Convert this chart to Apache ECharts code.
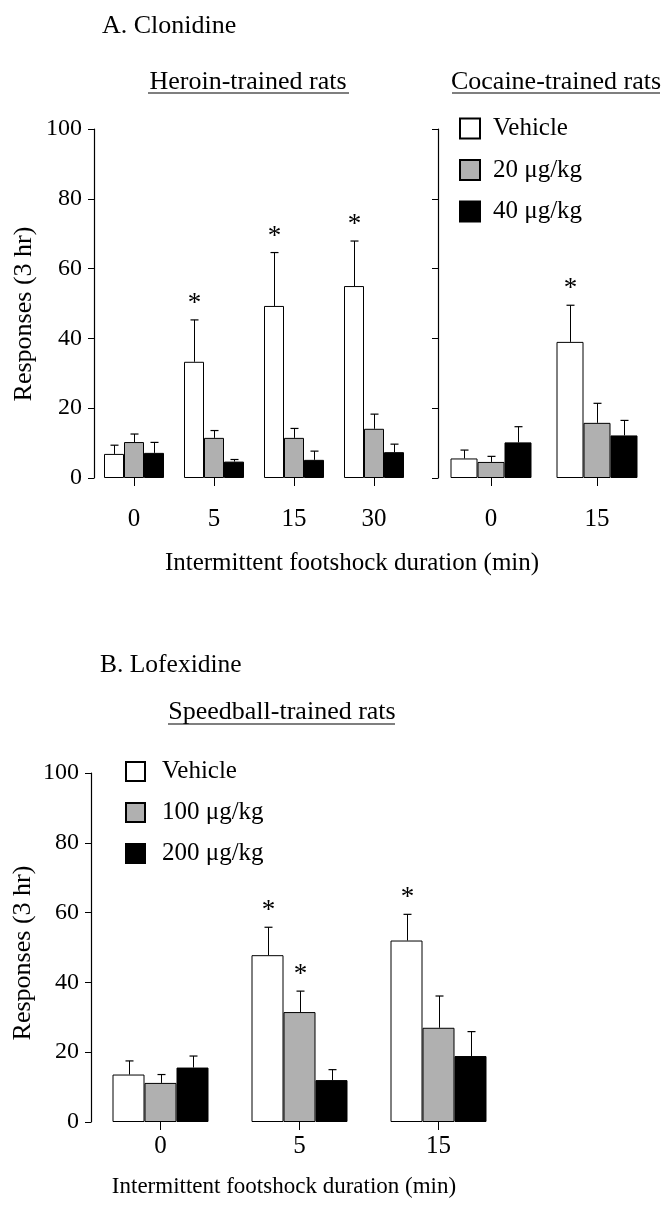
<!DOCTYPE html>
<html>
<head>
<meta charset="utf-8">
<script src="https://cdn.jsdelivr.net/npm/echarts@6/dist/echarts.min.js"></script>
<style>html,body{margin:0;padding:0;background:#fff}#c{width:664px;height:1206px}</style>
</head>
<body>
<div id="c"></div>
<script>
// ---------- data ----------
const yTicks = [0, 20, 40, 60, 80, 100];

// Panel A, heroin-trained rats (clonidine)
const heroinCats = ['0', '5', '15', '30'];
const heroinVehicle = [6.9, 33.3, 49.3, 55.0];
const heroinVehicleErr = [9.4, 45.3, 64.6, 67.9];
const heroinVehicleSig = [0, 1, 1, 1];
const heroin20 = [10.3, 11.5, 11.5, 14.1];
const heroin20Err = [12.6, 13.6, 14.2, 18.3];
const heroin20Sig = [0, 0, 0, 0];
const heroin40 = [7.2, 4.7, 5.2, 7.4];
const heroin40Err = [10.2, 5.3, 7.7, 9.7];
const heroin40Sig = [0, 0, 0, 0];

// Panel A, cocaine-trained rats (clonidine)
const cocaineCats = ['0', '15'];
const cocaineVehicle = [5.6, 39.0];
const cocaineVehicleErr = [8.0, 49.5];
const cocaineVehicleSig = [0, 1];
const cocaine20 = [4.6, 15.8];
const cocaine20Err = [6.2, 21.4];
const cocaine20Sig = [0, 0];
const cocaine40 = [10.2, 12.2];
const cocaine40Err = [14.7, 16.5];
const cocaine40Sig = [0, 0];

// Panel B, speedball-trained rats (lofexidine)
const speedCats = ['0', '5', '15'];
const speedVehicle = [13.6, 47.8, 52.0];
const speedVehicleErr = [17.5, 55.8, 59.5];
const speedVehicleSig = [0, 1, 1];
const speed100 = [11.2, 31.5, 27.0];
const speed100Err = [13.6, 37.5, 36.1];
const speed100Sig = [0, 1, 0];
const speed200 = [15.6, 12.0, 18.9];
const speed200Err = [18.9, 15.0, 25.9];
const speed200Sig = [0, 0, 0];

const namesA = ['Vehicle', '20 μg/kg', '40 μg/kg'];
const namesB = ['Vehicle', '100 μg/kg', '200 μg/kg'];

// ---------- styles ----------
const SERIF = "'Liberation Serif', 'Times New Roman', serif";
const FILLS = ['#ffffff', '#b0b0b0', '#000000'];
const BAR_W = [20, 27, 32];

const chart = echarts.init(document.getElementById('c'), null, {renderer: 'canvas'});

function barSeries(name, data, k, gi) {
  return {
    type: 'bar', name: name, data: data,
    xAxisIndex: gi, yAxisIndex: gi,
    barWidth: BAR_W[gi], barGap: '0%',
    itemStyle: {color: FILLS[k], borderColor: '#000', borderWidth: 1},
    emphasis: {disabled: true},
    z: 2
  };
}

function errSeries(vals, errs, sigs, k, gi) {
  return {
    type: 'custom',
    xAxisIndex: gi, yAxisIndex: gi,
    data: vals.map((v, i) => [i, v, errs[i], sigs[i], k]),
    encode: {x: 0, y: [1, 2]},
    z: 5,
    silent: true,
    renderItem: function (params, api) {
      const cat = api.value(0), v = api.value(1), e = api.value(2), sig = api.value(3), kk = api.value(4);
      const bw = BAR_W[gi];
      const p0 = api.coord([cat, v]);
      const p1 = api.coord([cat, e]);
      const x = Math.round(p0[0] + (kk - 1) * bw) + 0.5;
      const children = [
        {type: 'line', shape: {x1: x, y1: p0[1], x2: x, y2: p1[1]}, style: {stroke: '#000', lineWidth: 1}},
        {type: 'line', shape: {x1: x - 4, y1: p1[1], x2: x + 4, y2: p1[1]}, style: {stroke: '#000', lineWidth: 1.2}}
      ];
      if (sig) {
        children.push({type: 'text', style: {text: '*', x: x, y: p1[1] - 16, align: 'center', verticalAlign: 'middle', font: '27px ' + SERIF, fill: '#000'}});
      }
      return {type: 'group', children: children};
    }
  };
}

function xAxisCfg(gi, cats, margin) {
  return {
    gridIndex: gi, type: 'category', data: cats,
    axisLine: {show: false},
    axisTick: {show: true, alignWithLabel: true, length: 8, lineStyle: {color: '#000', width: 1}},
    axisLabel: {fontSize: 25, color: '#000', fontFamily: SERIF, margin: margin},
    splitLine: {show: false}
  };
}
function yAxisCfg(gi, showLabels) {
  return {
    gridIndex: gi, type: 'value', min: yTicks[0], max: yTicks[yTicks.length - 1], interval: yTicks[1] - yTicks[0],
    axisLine: {show: true, lineStyle: {color: '#000', width: 1.2}},
    axisTick: {show: true, length: 6, lineStyle: {color: '#000', width: 1}},
    axisLabel: {show: showLabels, fontSize: 24, color: '#000', fontFamily: SERIF, margin: 12},
    splitLine: {show: false}
  };
}

function txt(text, x, y, size, align, rot) {
  return {
    type: 'text', x: x, y: y, rotation: rot || 0,
    style: {text: text, font: size + 'px ' + SERIF, fill: '#000', align: align || 'left', verticalAlign: 'middle'}
  };
}
function uline(x1, x2, y) {
  return {type: 'line', shape: {x1: x1, y1: y, x2: x2, y2: y}, style: {stroke: '#000', lineWidth: 1.2}};
}

const legendCommon = {
  orient: 'vertical', icon: 'rect', selectedMode: false,
  textStyle: {fontSize: 25, color: '#000', fontFamily: SERIF}
};

const option = {
  animation: false,
  backgroundColor: '#ffffff',
  textStyle: {fontFamily: SERIF},
  grid: [
    {left: 94, top: 129, width: 320, height: 349},
    {left: 438, top: 129, width: 212, height: 349},
    {left: 91, top: 773, width: 417, height: 349}
  ],
  xAxis: [xAxisCfg(0, heroinCats, 29), xAxisCfg(1, cocaineCats, 29), xAxisCfg(2, speedCats, 12)],
  yAxis: [yAxisCfg(0, true), yAxisCfg(1, false), yAxisCfg(2, true)],
  legend: [
    Object.assign({}, legendCommon, {data: namesA, left: 454, top: 111, itemWidth: 20, itemHeight: 20, itemGap: 16.5,
      textStyle: Object.assign({}, legendCommon.textStyle, {padding: [0, 0, 0, 8]})}),
    Object.assign({}, legendCommon, {data: namesB, left: 120, top: 754, itemWidth: 19, itemHeight: 19, itemGap: 16,
      textStyle: Object.assign({}, legendCommon.textStyle, {padding: [0, 0, 0, 12]})})
  ],
  series: [
    barSeries(namesA[0], heroinVehicle, 0, 0),
    barSeries(namesA[1], heroin20, 1, 0),
    barSeries(namesA[2], heroin40, 2, 0),
    errSeries(heroinVehicle, heroinVehicleErr, heroinVehicleSig, 0, 0),
    errSeries(heroin20, heroin20Err, heroin20Sig, 1, 0),
    errSeries(heroin40, heroin40Err, heroin40Sig, 2, 0),

    barSeries(namesA[0], cocaineVehicle, 0, 1),
    barSeries(namesA[1], cocaine20, 1, 1),
    barSeries(namesA[2], cocaine40, 2, 1),
    errSeries(cocaineVehicle, cocaineVehicleErr, cocaineVehicleSig, 0, 1),
    errSeries(cocaine20, cocaine20Err, cocaine20Sig, 1, 1),
    errSeries(cocaine40, cocaine40Err, cocaine40Sig, 2, 1),

    barSeries(namesB[0], speedVehicle, 0, 2),
    barSeries(namesB[1], speed100, 1, 2),
    barSeries(namesB[2], speed200, 2, 2),
    errSeries(speedVehicle, speedVehicleErr, speedVehicleSig, 0, 2),
    errSeries(speed100, speed100Err, speed100Sig, 1, 2),
    errSeries(speed200, speed200Err, speed200Sig, 2, 2)
  ],
  graphic: [
    txt('A. Clonidine', 102, 26, 26, 'left'),
    txt('Heroin-trained rats', 248, 82, 26, 'center'),
    uline(148, 349, 93),
    txt('Cocaine-trained rats', 556, 82, 26, 'center'),
    uline(452, 660, 93),
    txt('Responses (3 hr)', 24, 314, 26, 'center', Math.PI / 2),
    txt('Intermittent footshock duration (min)', 352, 563, 25, 'center'),

    txt('B. Lofexidine', 100, 665, 25.5, 'left'),
    txt('Speedball-trained rats', 282, 712, 26, 'center'),
    uline(168, 395, 724),
    txt('Responses (3 hr)', 23, 953, 26, 'center', Math.PI / 2),
    txt('Intermittent footshock duration (min)', 284, 1187, 23, 'center')
  ]
};

chart.setOption(option);
</script>
</body>
</html>
